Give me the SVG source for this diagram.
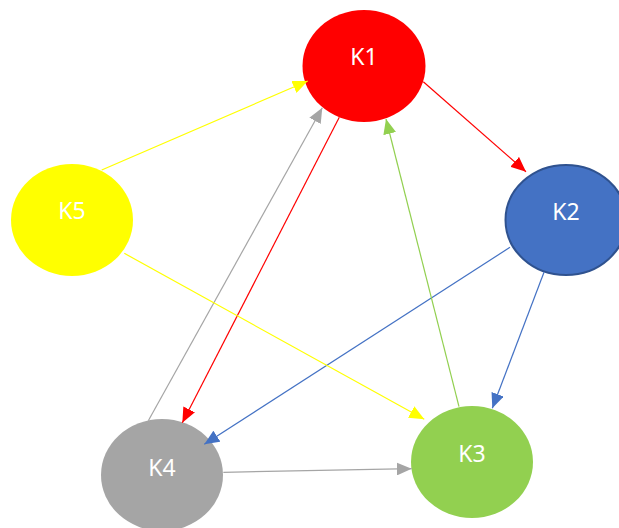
<svg xmlns="http://www.w3.org/2000/svg" width="619" height="528" viewBox="0 0 619 528">
<style>
.lbl{font-family:"Noto Sans","Open Sans","Liberation Sans",sans-serif;font-size:23px;fill:#ffffff;text-anchor:middle}
.e{fill:none;stroke-width:1.2}
</style>
<defs>
<marker id="aR" markerUnits="userSpaceOnUse" markerWidth="15" markerHeight="13" refX="15" refY="6.5" orient="auto"><path d="M0,0 L15,6.5 L0,13 z" fill="#FF0000"/></marker>
<marker id="aB" markerUnits="userSpaceOnUse" markerWidth="15" markerHeight="13" refX="15" refY="6.5" orient="auto"><path d="M0,0 L15,6.5 L0,13 z" fill="#4472C4"/></marker>
<marker id="aG" markerUnits="userSpaceOnUse" markerWidth="15" markerHeight="13" refX="15" refY="6.5" orient="auto"><path d="M0,0 L15,6.5 L0,13 z" fill="#92D050"/></marker>
<marker id="aA" markerUnits="userSpaceOnUse" markerWidth="15" markerHeight="13" refX="15" refY="6.5" orient="auto"><path d="M0,0 L15,6.5 L0,13 z" fill="#A5A5A5"/></marker>
<marker id="aY" markerUnits="userSpaceOnUse" markerWidth="15" markerHeight="13" refX="15" refY="6.5" orient="auto"><path d="M0,0 L15,6.5 L0,13 z" fill="#FFFF00"/></marker>
</defs>
<rect width="619" height="528" fill="#ffffff"/>
<g id="nodes-bg">
<g id="K1"><ellipse cx="364" cy="66" rx="61.5" ry="56" fill="#FF0000"/><text class="lbl" x="364" y="65">K1</text></g>
<g id="K2"><ellipse cx="566" cy="220" rx="60.5" ry="55" fill="#4472C4" stroke="#2F528F" stroke-width="2"/><text class="lbl" x="566" y="220">K2</text></g>
<g id="K3"><ellipse cx="472" cy="462" rx="61" ry="56" fill="#92D050"/><text class="lbl" x="472" y="462">K3</text></g>
<g id="K4"><ellipse cx="162" cy="475" rx="61" ry="56" fill="#A5A5A5"/><text class="lbl" x="162" y="476">K4</text></g>
<g id="K5"><ellipse cx="72" cy="220" rx="61" ry="56" fill="#FFFF00"/><text class="lbl" x="72" y="219">K5</text></g>
</g>
<g id="connectors">
<line class="e" x1="423.3" y1="81.7" x2="526" y2="171.7" stroke="#FF0000" marker-end="url(#aR)"/>
<line class="e" x1="339.3" y1="117.3" x2="182.3" y2="422.7" stroke="#FF0000" marker-end="url(#aR)"/>
<line class="e" x1="544" y1="272.3" x2="492.3" y2="408.3" stroke="#4472C4" marker-end="url(#aB)"/>
<line class="e" x1="510" y1="247.3" x2="204.3" y2="444.3" stroke="#4472C4" marker-end="url(#aB)"/>
<line class="e" x1="459" y1="406.7" x2="386" y2="119" stroke="#92D050" marker-end="url(#aG)"/>
<line class="e" x1="148.3" y1="420.7" x2="322.3" y2="107.7" stroke="#A5A5A5" marker-end="url(#aA)"/>
<line class="e" x1="223.3" y1="472.3" x2="411.7" y2="468.7" stroke="#A5A5A5" marker-end="url(#aA)"/>
<line class="e" x1="101.7" y1="170" x2="307.7" y2="81" stroke="#FFFF00" marker-end="url(#aY)"/>
<line class="e" x1="124.3" y1="253.3" x2="424.3" y2="419.3" stroke="#FFFF00" marker-end="url(#aY)"/>
</g>
</svg>
